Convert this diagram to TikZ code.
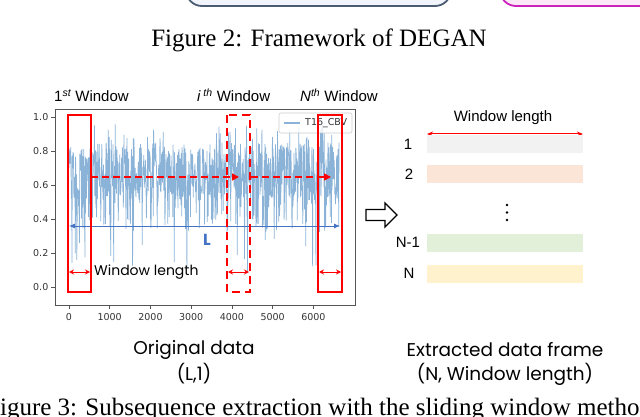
\documentclass[tikz,border=0pt]{standalone}
\usepackage{fontspec}
\setmainfont{Liberation Serif}
\newfontfamily\arialf{Liberation Sans}
\newfontfamily\gothf{Poppins}
\newfontfamily\dejaf{DejaVu Sans}
\usetikzlibrary{arrows.meta}
\definecolor{sig}{HTML}{8AB3D7}
\definecolor{boxgray}{HTML}{4A5B72}
\definecolor{boxblue}{HTML}{F1F4FA}
\definecolor{boxmag}{HTML}{CC22BB}
\definecolor{boxpink}{HTML}{FCE9F8}
\definecolor{lblue}{HTML}{4472C4}
\definecolor{axgray}{HTML}{555555}
\definecolor{tickc}{HTML}{333333}
\definecolor{barA}{HTML}{F2F2F2}
\definecolor{barB}{HTML}{FBE5D6}
\definecolor{barC}{HTML}{E2F0D9}
\definecolor{barD}{HTML}{FFF2CC}
\tikzset{
  capt/.style={font=\fontsize{25}{30}\selectfont, inner sep=0pt},
  toplbl/.style={font=\arialf\fontsize{15}{18}\selectfont, inner sep=0pt},
  gothlbl/.style={font=\gothf\fontsize{18.5}{23}\selectfont, inner sep=0pt},
  ticklbl/.style={font=\dejaf\fontsize{9.5}{11}\selectfont, text=tickc, inner sep=0pt},
  winsolid/.style={draw=red, line width=2},
  windash/.style={draw=red, line width=2.5, dash pattern=on 8 off 5},
  slide/.style={draw=red, line width=1.6, dash pattern=on 7 off 4, -{Triangle[length=7,width=7]}},
  wlen/.style={draw=red, line width=1, {Stealth[length=5,width=5]}-{Stealth[length=5,width=5]}},
  bar/.style={draw=none, minimum width=156, minimum height=18, inner sep=0pt},
  numlbl/.style={font=\arialf\fontsize{15}{18}\selectfont, inner sep=0pt}
}
\begin{document}
\begin{tikzpicture}[x=1pt,y=-1pt]
\useasboundingbox (0,0) rectangle (640,417);
\clip (0,0) rectangle (640,417);
% previous figure boxes
\draw[line width=1.8, draw=boxgray, fill=boxblue, rounded corners=16] (186,-40) rectangle (451,6);
\draw[line width=1.8, draw=boxmag, fill=boxpink, rounded corners=16] (500,-40) rectangle (700,6);
\node[capt] (cap2) at (319,40) {Figure 2: Framework of DEGAN};
% signal
\pgfmathsetseed{11}
\begin{scope}
\clip (56,110) rectangle (354,304);
\draw[sig, line width=0.7, line join=bevel] (69,{287-170*0.7}) \foreach \i in {1,...,900} { -- ({69+\i*0.3},
 {287-170*ifthenelse(rnd<0.04,0.08+0.35*rnd,ifthenelse(rnd<0.12,0.33+0.17*rnd,ifthenelse(rnd<0.06,0.86+0.1*rnd,0.68+0.17*rand)))}) };
\end{scope}
% axes frame
\draw[axgray, line width=0.8] (55,109) rectangle (355,305);
\foreach \v/\t in {0/0.0,1/0.2,2/0.4,3/0.6,4/0.8,5/1.0}{
  \draw[axgray, line width=0.7] (51,{287-34*\v}) -- (55,{287-34*\v});
  \node[ticklbl, anchor=east] (yt\v) at (48.5,{287-34*\v}) {\t};
}
\foreach \v in {0,...,6}{
  \draw[axgray, line width=0.7] ({69+40.73*\v},305) -- ({69+40.73*\v},309);
}
\node[ticklbl] (xt0) at (69,317) {0};
\node[ticklbl] (xt1) at (109.7,317) {1000};
\node[ticklbl] (xt2) at (150.5,317) {2000};
\node[ticklbl] (xt3) at (191.2,317) {3000};
\node[ticklbl] (xt4) at (231.9,317) {4000};
\node[ticklbl] (xt5) at (272.7,317) {5000};
\node[ticklbl] (xt6) at (313.4,317) {6000};
% legend
\draw[draw=black!20, fill=white, fill opacity=0.8, rounded corners=2, line width=0.6] (279,113) rectangle (352,133);
\draw[sig, line width=1.4] (284,123) -- (300,123);
\node[ticklbl, anchor=west] (leg) at (305,123) {T16\_CBV};
% L arrow
\coordinate (La) at (69,226);
\coordinate (Lb) at (340,226);
\draw[lblue, line width=0.9, {Latex[length=6,width=5]}-{Latex[length=6,width=5]}] (La) -- (Lb);
\node[font=\gothf\bfseries\fontsize{16}{18}\selectfont, text=lblue, inner sep=0pt] (Llbl) at (207,240) {L};
% windows
\draw[winsolid] (68,115) rectangle (91,292);
\draw[windash] (227,115) rectangle (250,292);
\draw[winsolid] (318,115) rectangle (342,292);
% sliding arrows
\coordinate (s1a) at (91,177);
\coordinate (s1b) at (239,177);
\coordinate (s2a) at (251,177);
\coordinate (s2b) at (331,177);
\draw[slide] (s1a) -- (s1b);
\draw[slide] (s2a) -- (s2b);
% window-length arrows
\coordinate (w1a) at (69,272); \coordinate (w1b) at (90,272);
\coordinate (w2a) at (228,272); \coordinate (w2b) at (249,272);
\coordinate (w3a) at (319,272); \coordinate (w3b) at (341,272);
\draw[wlen] (w1a) -- (w1b);
\draw[wlen] (w2a) -- (w2b);
\draw[wlen] (w3a) -- (w3b);
\node[font=\gothf\fontsize{14}{17}\selectfont, inner sep=0pt, anchor=west] (wl) at (94,272) {Window length};
% top labels
\node[toplbl, anchor=base west] (t1) at (54,102) {1\textsuperscript{\itshape st} Window};
\node[toplbl, anchor=base west] (t2) at (197,102) {\textit{i}\,\textsuperscript{\itshape th} Window};
\node[toplbl, anchor=base west] (t3) at (300,102) {\textit{N}\textsuperscript{\itshape th} Window};
% hollow arrow
\draw[line width=1.3, fill=white, line join=miter] (366,209.5) -- (385,209.5) -- (385,203) -- (397,215) -- (385,227) -- (385,220.5) -- (366,220.5) -- cycle;
% extracted frame
\node[toplbl] (wlr) at (503,118) {Window length};
\coordinate (ra) at (427,134);
\coordinate (rb) at (583,134);
\draw[red, line width=1, {Stealth[length=6,width=5]}-{Stealth[length=6,width=5]}] (ra) -- (rb);
\node[bar, fill=barA] (b1) at (505,144) {};
\node[bar, fill=barB] (b2) at (505,174) {};
\node[bar, fill=barC] (b3) at (505,242.5) {};
\node[bar, fill=barD] (b4) at (505,273.5) {};
\node[numlbl] (n1) at (408,144) {1};
\node[numlbl] (n2) at (409,174) {2};
\node[numlbl] (n3) at (408,242) {N-1};
\node[numlbl] (n4) at (409,273) {N};
\foreach \yy in {205,212.5,220}{ \fill (507,\yy) circle (1.4); }
% bottom labels
\node[gothlbl] (od) at (194,350) {Original data};
\node[gothlbl] (od2) at (194,374) {(L,1)};
\node[gothlbl] (ed) at (505,350) {Extracted data frame};
\node[gothlbl] (ed2) at (505,374) {(N, Window length)};
\node[capt, anchor=base west] (cap3) at (-14,415) {Figure 3: Subsequence extraction with the sliding window method.};
\end{tikzpicture}
\end{document}
